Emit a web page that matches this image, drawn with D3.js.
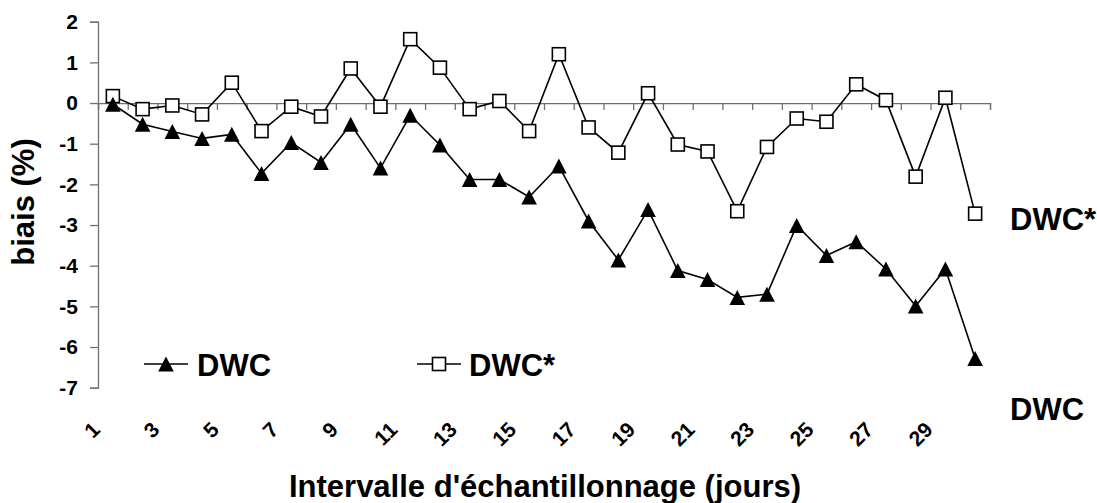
<!DOCTYPE html>
<html>
<head>
<meta charset="utf-8">
<script src="https://cdn.jsdelivr.net/npm/d3@7"></script>
<style>
  html, body { margin: 0; padding: 0; background: #fff; }
  svg { display: block; font-family: "Liberation Sans", Arial, sans-serif; font-weight: bold; }
</style>
</head>
<body>
<svg id="chart" width="1097" height="503"></svg>
<script>
// Sampling interval (days)
const days = [1, 2, 3, 4, 5, 6, 7, 8, 9, 10, 11, 12, 13, 14, 15,
              16, 17, 18, 19, 20, 21, 22, 23, 24, 25, 26, 27, 28, 29, 30];

// Bias (%) for each series
const dwc = [-0.03, -0.52, -0.70, -0.87, -0.77, -1.73, -0.97, -1.46, -0.52, -1.60,
             -0.30, -1.03, -1.88, -1.88, -2.31, -1.55, -2.90, -3.86, -2.62, -4.12,
             -4.34, -4.78, -4.70, -3.01, -3.75, -3.41, -4.08, -4.99, -4.08, -6.28];
const dwcStar = [0.17, -0.15, -0.06, -0.28, 0.50, -0.69, -0.09, -0.33, 0.85, -0.09,
                 1.57, 0.87, -0.15, 0.05, -0.69, 1.20, -0.60, -1.22, 0.24, -1.02,
                 -1.19, -2.66, -1.08, -0.38, -0.46, 0.46, 0.07, -1.81, 0.13, -2.72];

// Axis tick labels
const yTicks = [2, 1, 0, -1, -2, -3, -4, -5, -6, -7];
const xTickLabels = [1, 3, 5, 7, 9, 11, 13, 15, 17, 19, 21, 23, 25, 27, 29];

const seriesNames = ["DWC", "DWC*"];

const svg = d3.select("#chart");
const plotLeft = 98, plotRight = 990, plotTop = 21.7, plotBottom = 387.7;
const axisColor = "#707070";

const x = d3.scaleBand().domain(days).range([plotLeft, plotRight]).padding(0);
const xEdge = d3.scaleLinear().domain([0, days.length]).range([plotLeft, plotRight]);
const y = d3.scaleLinear().domain([-7, 2]).range([plotBottom, plotTop]);
const cx = d => x(d) + x.bandwidth() / 2;

// Y axis (plain hyphen for negative numbers)
const yAxis = svg.append("g")
  .attr("transform", `translate(${plotLeft},0)`)
  .call(d3.axisLeft(y).tickValues(yTicks).tickSize(8).tickPadding(12).tickFormat(d => String(d)));
yAxis.select(".domain").attr("stroke", axisColor).attr("stroke-width", 1.3);
yAxis.selectAll(".tick line").attr("stroke", axisColor).attr("stroke-width", 1.3);
yAxis.selectAll(".tick text")
  .attr("fill", "#000")
  .style("font-size", "21px")
  .style("font-weight", "bold")
  .style("font-family", "'Liberation Sans', Arial, sans-serif");

// X axis along zero, ticks at category boundaries
const xAxis = svg.append("g")
  .attr("transform", `translate(0,${y(0)})`)
  .call(d3.axisBottom(xEdge).tickValues(d3.range(0, days.length + 1)).tickSize(7).tickFormat(""));
xAxis.select(".domain").attr("stroke", axisColor).attr("stroke-width", 1.3);
xAxis.selectAll(".tick line").attr("stroke", axisColor).attr("stroke-width", 1.3);

// Rotated category labels below the plot
svg.append("g").selectAll("text")
  .data(xTickLabels)
  .join("text")
  .attr("transform", d => `translate(${cx(d) - 11.5},431) rotate(-45)`)
  .attr("text-anchor", "end")
  .style("font-size", "21px")
  .text(d => d);

// Series lines
const line = d3.line()
  .x((d, i) => cx(days[i]))
  .y(d => y(d));

svg.append("path").datum(dwcStar)
  .attr("fill", "none").attr("stroke", "#000").attr("stroke-width", 1.6)
  .attr("d", line);
svg.append("path").datum(dwc)
  .attr("fill", "none").attr("stroke", "#000").attr("stroke-width", 1.6)
  .attr("d", line);

// Marker shapes
const triPath = "M0,-7.5L7.8,7.5L-7.8,7.5Z";
const sq = 13;

function drawTriangle(g, px, py) {
  g.append("path").attr("d", triPath)
    .attr("transform", `translate(${px},${py})`)
    .attr("fill", "#000");
}
function drawSquare(g, px, py) {
  g.append("rect")
    .attr("x", px - sq / 2).attr("y", py - sq / 2)
    .attr("width", sq).attr("height", sq)
    .attr("fill", "#fff").attr("stroke", "#000").attr("stroke-width", 1.6);
}

const markers = svg.append("g");
dwcStar.forEach((v, i) => drawSquare(markers, cx(days[i]), y(v)));
dwc.forEach((v, i) => drawTriangle(markers, cx(days[i]), y(v)));

// Legend
const legend = svg.append("g");
legend.append("line").attr("x1", 144).attr("x2", 188).attr("y1", 364).attr("y2", 364)
  .attr("stroke", "#000").attr("stroke-width", 1.6);
drawTriangle(legend, 166, 364);
legend.append("text").attr("x", 197).attr("y", 376).style("font-size", "31px").text(seriesNames[0]);

legend.append("line").attr("x1", 417).attr("x2", 461).attr("y1", 364).attr("y2", 364)
  .attr("stroke", "#000").attr("stroke-width", 1.6);
drawSquare(legend, 439, 364);
legend.append("text").attr("x", 469).attr("y", 376).style("font-size", "31px").text(seriesNames[1]);

// Series end labels
svg.append("text").attr("x", 1010).attr("y", 230).style("font-size", "31px").text(seriesNames[1]);
svg.append("text").attr("x", 1010).attr("y", 420).style("font-size", "31px").text(seriesNames[0]);

// Axis titles
svg.append("text")
  .attr("transform", "translate(34,202) rotate(-90)")
  .attr("text-anchor", "middle")
  .style("font-size", "31px")
  .text("biais (%)");
svg.append("text")
  .attr("x", 545).attr("y", 497)
  .attr("text-anchor", "middle")
  .style("font-size", "31px")
  .text("Intervalle d'échantillonnage (jours)");
</script>
</body>
</html>
